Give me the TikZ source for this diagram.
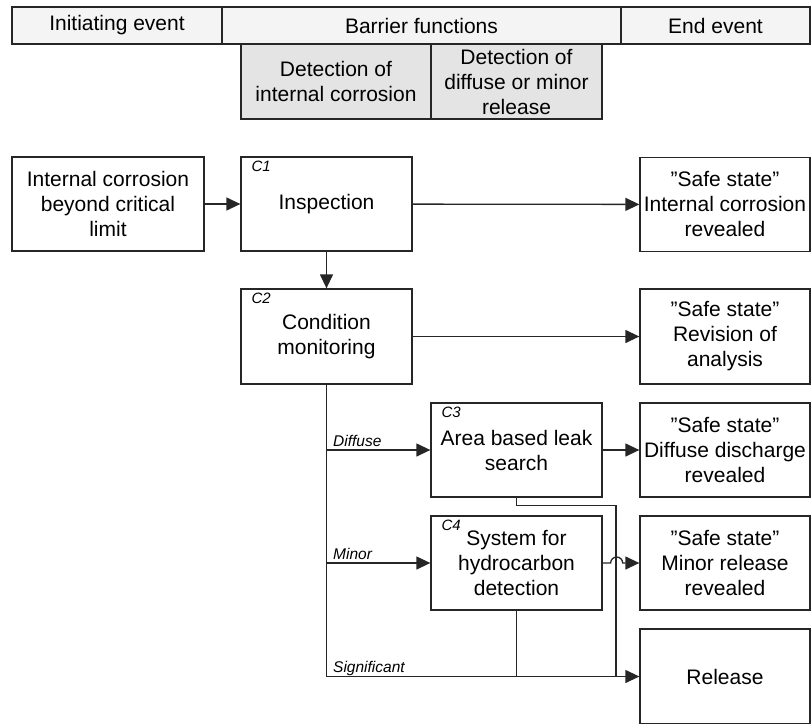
\documentclass[tikz,border=0pt]{standalone}
\usepackage{fontspec}
\setmainfont{Liberation Sans}
\usetikzlibrary{arrows.meta}
\definecolor{ink}{HTML}{262626}
\definecolor{headfill}{HTML}{F4F4F4}
\definecolor{subfill}{HTML}{E4E4E4}
\begin{document}
\begin{tikzpicture}[x=1pt,y=-1pt,
  every node/.style={inner sep=0pt},
  box/.style={draw=ink, line width=1.3pt, fill=white, rectangle, align=center,
    font=\fontsize{21}{25}\selectfont},
  headcell/.style={box, fill=headfill, minimum height=37pt},
  subcell/.style={box, fill=subfill, minimum height=75pt},
  event/.style={box, minimum height=94pt},
  tag/.style={font=\fontsize{15}{17}\selectfont\itshape, anchor=base west},
  branch/.style={font=\fontsize{15.5}{18}\selectfont\itshape, anchor=base west},
  wire/.style={draw=ink, line width=1.3pt},
  arr/.style={wire, -{Triangle[length=14pt,width=13pt]}}
]
\useasboundingbox (0,0) rectangle (811,723);

% column headings
\node[headcell, minimum width=210pt] (hinit) at (117,25.5) {Initiating event};
\node[headcell, minimum width=399pt] (hbar)  at (421.5,25.5) {Barrier functions};
\node[headcell, minimum width=189pt] (hend)  at (715.5,25.5) {End event};
\node[subcell, minimum width=190pt] (sub1) at (336,81.5) {Detection of\\internal corrosion};
\node[subcell, minimum width=171pt] (sub2) at (516.5,81.5) {Detection of\\diffuse or minor\\release};

% initiating event and barriers
\node[event, minimum width=192pt] (init) at (108,204) {Internal corrosion\\beyond critical\\limit};
\node[event, minimum width=171pt] (c1) at (326.5,204) {Inspection};
\node[event, minimum width=171pt, minimum height=95pt] (c2) at (326.5,336.5) {Condition\\monitoring};
\node[event, minimum width=171pt] (c3) at (516.5,450) {Area based leak\\search};
\node[event, minimum width=171pt] (c4) at (516.5,563) {System for\\hydrocarbon\\detection};

\node[tag] at ([xshift=11pt,yshift=-15pt]c1.north west) {C1};
\node[tag] at ([xshift=11pt,yshift=-15pt]c2.north west) {C2};
\node[tag] at ([xshift=11pt,yshift=-15pt]c3.north west) {C3};
\node[tag] at ([xshift=11pt,yshift=-15pt]c4.north west) {C4};

% end events
\node[event, minimum width=170pt] (s1) at (725,204.5) {”Safe state”\\Internal corrosion\\revealed};
\node[event, minimum width=170pt, minimum height=95pt] (s2) at (725,336.5) {”Safe state”\\Revision of\\analysis};
\node[event, minimum width=170pt] (s3) at (725,450) {”Safe state”\\Diffuse discharge\\revealed};
\node[event, minimum width=170pt] (s4) at (725,563) {”Safe state”\\Minor release\\revealed};
\node[event, minimum width=170pt, minimum height=95pt] (rel) at (725,676.5) {Release};

% connectors
\draw[arr] (init) -- (c1);
\draw[arr] (c1) -- (s1);
\draw[arr] (c1) -- (c2);
\draw[arr] (c2.east) -- (s2.west |- c2.east);
\draw[arr] (c2.south) |- (rel.west);
\draw[arr] (c2.south |- c3.west) -- (c3.west);
\draw[arr] (c2.south |- c4.west) -- (c4.west);
\draw[arr] (c3) -- (s3);
\coordinate (merge) at (616,676.5);
\draw[wire] (c3.south) -- ++(0,8) -| (merge);
\draw[wire] (c4.south) -- (c4.south |- rel.west);
\draw[arr] (c4.east) -- ++(8,0) arc[start angle=180, end angle=0, radius=6pt] -- (s4.west);

% branch labels
\node[branch] at (333,446) {Diffuse};
\node[branch] at (333,559) {Minor};
\node[branch] at (333,672) {Significant};
\end{tikzpicture}
\end{document}
